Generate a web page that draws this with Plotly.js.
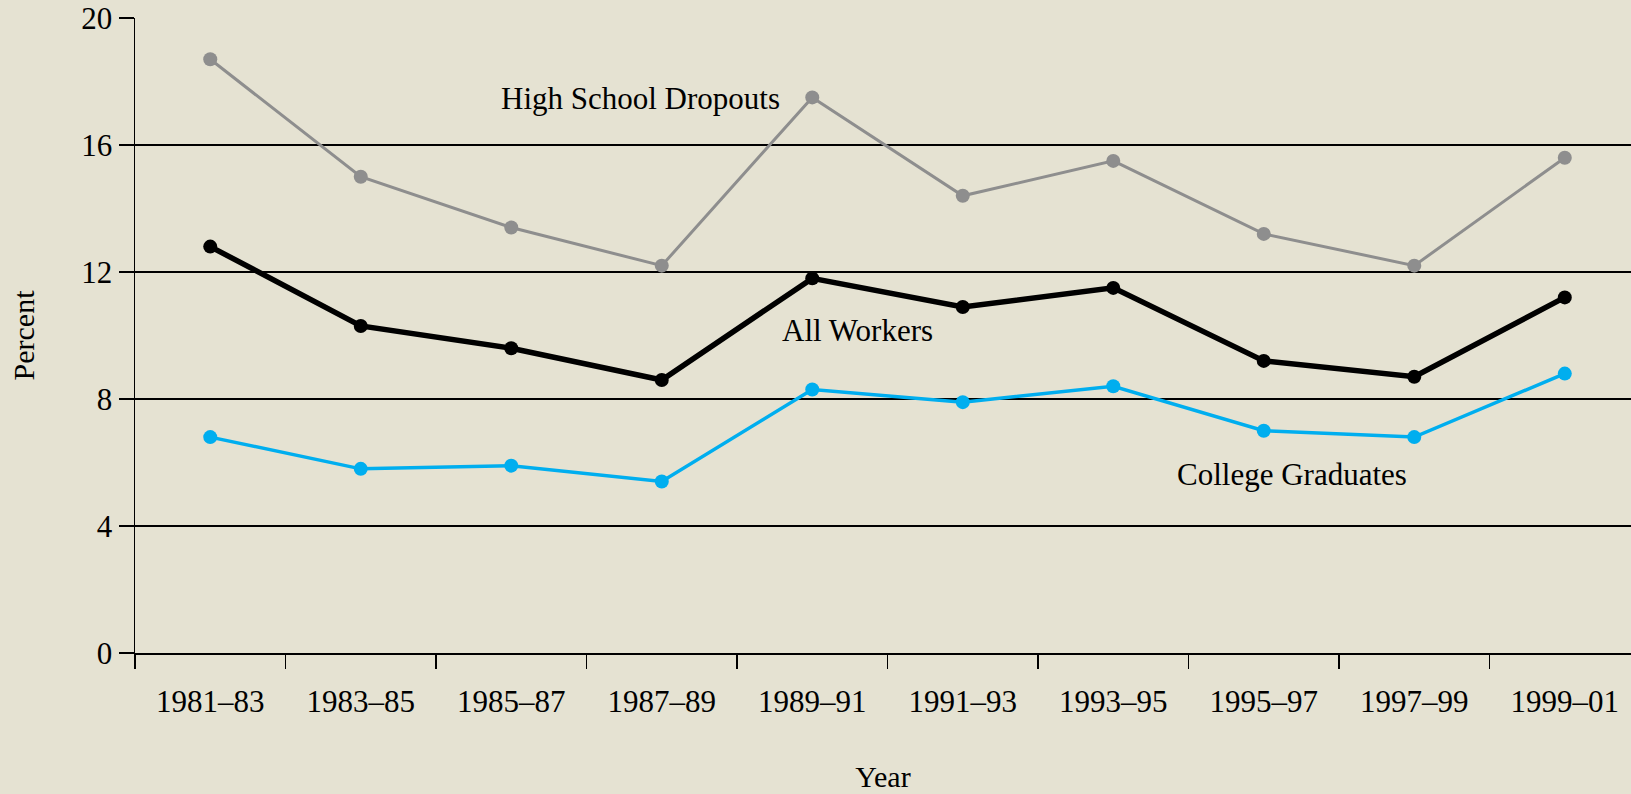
<!DOCTYPE html>
<html>
<head>
<meta charset="utf-8">
<script src="https://cdn.plot.ly/plotly-3.0.1.min.js"></script>
<style>
html,body{margin:0;padding:0;background:#E5E2D2;}
#chart{width:1631px;height:794px;}
</style>
</head>
<body>
<div id="chart"></div>
<script>
const periods = ["1981–83","1983–85","1985–87","1987–89","1989–91","1991–93","1993–95","1995–97","1997–99","1999–01"];
const dropouts = [18.7, 15.0, 13.4, 12.2, 17.5, 14.4, 15.5, 13.2, 12.2, 15.6];
const allWorkers = [12.8, 10.3, 9.6, 8.6, 11.8, 10.9, 11.5, 9.2, 8.7, 11.2];
const collegeGrads = [6.8, 5.8, 5.9, 5.4, 8.3, 7.9, 8.4, 7.0, 6.8, 8.8];
const yTicks = [0, 4, 8, 12, 16, 20];

const serif = "Liberation Serif, Times New Roman, serif";

const traces = [
  {x: periods, y: dropouts, name: "High School Dropouts", mode: "lines+markers",
   line: {color: "#8E8E8E", width: 3}, marker: {color: "#8E8E8E", size: 14}},
  {x: periods, y: allWorkers, name: "All Workers", mode: "lines+markers",
   line: {color: "#000000", width: 5.5}, marker: {color: "#000000", size: 14}},
  {x: periods, y: collegeGrads, name: "College Graduates", mode: "lines+markers",
   line: {color: "#00AEEF", width: 3.5}, marker: {color: "#00AEEF", size: 14}}
];

const layout = {
  width: 1631, height: 794,
  paper_bgcolor: "#E5E2D2", plot_bgcolor: "#E5E2D2",
  showlegend: false,
  hovermode: false,
  margin: {l: 135, r: 0, t: 18, b: 141},
  font: {family: serif, size: 31, color: "#000"},
  xaxis: {
    type: "category",
    range: [-0.5, 9.44],
    tickson: "boundaries",
    ticks: "outside", ticklen: 14, tickwidth: 1.5, tickcolor: "#000",
    ticklabelstandoff: 20,
    showline: true, linecolor: "#000", linewidth: 2,
    showgrid: false, zeroline: false,
    tickfont: {family: serif, size: 31, color: "#000"},
    title: {text: "Year", font: {family: serif, size: 30, color: "#000"}, standoff: 48},
    automargin: false
  },
  yaxis: {
    range: [0, 20],
    tickvals: yTicks,
    ticktext: yTicks.map(String),
    ticks: "outside", ticklen: 15, tickwidth: 1.5, tickcolor: "#000",
    showline: true, linecolor: "#000", linewidth: 1.5,
    showgrid: true, gridcolor: "#000", gridwidth: 1.2,
    zeroline: false,
    tickfont: {family: serif, size: 31, color: "#000"},
    title: {text: "Percent", font: {family: serif, size: 30, color: "#000"}, standoff: 38},
    automargin: false
  },
  annotations: [
    {x: 2.86, y: 17.46, xref: "x", yref: "y", text: "High School Dropouts", showarrow: false,
     font: {family: serif, size: 31, color: "#000"}},
    {x: 4.30, y: 10.15, xref: "x", yref: "y", text: "All Workers", showarrow: false,
     font: {family: serif, size: 31, color: "#000"}},
    {x: 7.19, y: 5.62, xref: "x", yref: "y", text: "College Graduates", showarrow: false,
     font: {family: serif, size: 31, color: "#000"}}
  ]
};

Plotly.newPlot("chart", traces, layout, {displayModeBar: false, staticPlot: true});
</script>
</body>
</html>
